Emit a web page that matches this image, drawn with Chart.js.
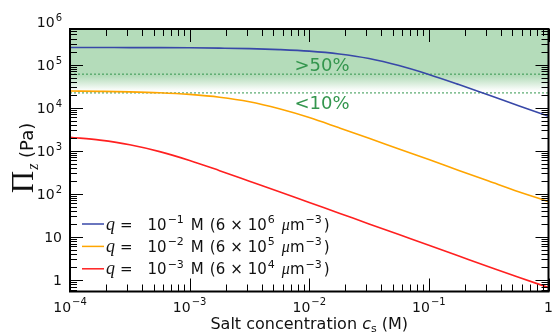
<!DOCTYPE html>
<html lang="en">
<head>
<meta charset="UTF-8">
<title>Osmotic pressure vs salt concentration</title>
<script src="https://cdn.jsdelivr.net/npm/chart.js"></script>
<style>
    body { margin: 0; background: #fff; }
    #chart-container { width: 555px; height: 336px; }
</style>
</head>
<body>
<div id="chart-container"><canvas id="myChart"></canvas></div>
<script>
// salt concentration c_s (M), quarter-decade steps
const saltConc = [1e-4, 1.78e-4, 3.16e-4, 5.62e-4, 1e-3, 1.78e-3, 3.16e-3, 5.62e-3, 1e-2, 1.78e-2, 3.16e-2, 5.62e-2, 0.1, 0.178, 0.316, 0.562, 1];
// Pi_z (Pa) for each fixed charge q
const piQ1 = [2.50e5, 2.49e5, 2.48e5, 2.47e5, 2.45e5, 2.41e5, 2.35e5, 2.23e5, 2.05e5, 1.76e5, 1.38e5, 9.5e4, 5.9e4, 3.44e4, 1.96e4, 1.11e4, 6.3e3];
const piQ2 = [2.43e4, 2.39e4, 2.33e4, 2.22e4, 2.03e4, 1.75e4, 1.37e4, 9.4e3, 5.9e3, 3.4e3, 1.95e3, 1.10e3, 625, 350, 198, 112, 66];
const piQ3 = [2.06e3, 1.76e3, 1.38e3, 955, 595, 345, 197, 112, 63, 35.5, 20, 11.3, 6.4, 3.6, 2.03, 1.15, 0.67];

const seriesColors = ['#3848a8', '#ffa500', '#ff2020'];
// legend: exponent of q (M) and of number density (um^-3)
const qExps = ['−1', '−2', '−3'];
const nExps = ['6', '5', '4'];

// shaded region boundaries (Pa) and their labels
const bandLevels = [6e4, 2.2e4];
const bandTexts = ['>50%', '<10%'];
const bandTextPos = [[1.28e-2, 8.9e4], [1.28e-2, 1.2e4]];

// axes
const xRange = [1e-4, 1];
const yRange = [0.54, 6.7e5];
const xDecades = [1e-4, 1e-3, 1e-2, 1e-1, 1];
const xTickLabels = [['10', '−4'], ['10', '−3'], ['10', '−2'], ['10', '−1'], ['1', '']];
const yDecades = [1, 10, 100, 1e3, 1e4, 1e5, 1e6];
const yTickLabels = [['1', ''], ['10', ''], ['10', '2'], ['10', '3'], ['10', '4'], ['10', '5'], ['10', '6']];

const SANS = '"DejaVu Sans", sans-serif';
const SERIF = '"Liberation Serif", "DejaVu Serif", serif';
const GREEN = 'rgb(52,150,78)';
const BAND = [180, 220, 186];

function pts(ys) {
    return saltConc.map((c, i) => ({ x: c, y: ys[i] }));
}

// draws base with a superscript, returns width
function drawPower(ctx, base, exp, x, y, align, size) {
    const supSize = Math.round(size * 0.72);
    ctx.font = size + 'px ' + SANS;
    const wb = ctx.measureText(base).width;
    ctx.font = supSize + 'px ' + SANS;
    const we = exp ? ctx.measureText(exp).width + 1 : 0;
    const total = wb + we;
    let x0 = x;
    if (align === 'right') x0 = x - total;
    if (align === 'center') x0 = x - total / 2;
    ctx.textAlign = 'left';
    ctx.textBaseline = 'alphabetic';
    ctx.font = size + 'px ' + SANS;
    ctx.fillText(base, x0, y);
    if (exp) {
        ctx.font = supSize + 'px ' + SANS;
        ctx.fillText(exp, x0 + wb + 1, y - size * 0.45);
    }
    return total;
}

function seg(ctx, text, x, y, font) {
    ctx.font = font;
    ctx.fillText(text, x, y);
    return x + ctx.measureText(text).width;
}

const framePlugin = {
    id: 'frame',
    afterDatasetsDraw(chart) {
        const { ctx, chartArea: a, scales } = chart;
        const xs = scales.x, ys = scales.y;
        ctx.save();
        ctx.strokeStyle = '#000';
        ctx.lineWidth = 1;
        const line = (x1, y1, x2, y2) => { ctx.beginPath(); ctx.moveTo(x1, y1); ctx.lineTo(x2, y2); ctx.stroke(); };
        // x ticks, top and bottom, pointing in
        xDecades.forEach(d => {
            for (let k = 1; k <= 9; k++) {
                const v = d * k;
                if (v < xRange[0] || v > xRange[1]) continue;
                const px = Math.round(xs.getPixelForValue(v)) + 0.5;
                const len = k === 1 ? 13 : 7;
                line(px, a.bottom, px, a.bottom - len);
                line(px, a.top, px, a.top + len);
            }
        });
        // y ticks, left and right, pointing in
        [0.1].concat(yDecades).forEach(d => {
            for (let k = 1; k <= 9; k++) {
                const v = d * k;
                if (v < yRange[0] || v > yRange[1]) continue;
                const py = Math.round(ys.getPixelForValue(v)) + 0.5;
                const len = k === 1 ? 13 : 7;
                line(a.left, py, a.left + len, py);
                line(a.right, py, a.right - len, py);
            }
        });
        ctx.lineWidth = 2;
        ctx.strokeRect(a.left, a.top, a.right - a.left, a.bottom - a.top);

        // tick labels
        ctx.fillStyle = '#111';
        xDecades.forEach((d, i) => {
            const px = xs.getPixelForValue(d);
            drawPower(ctx, xTickLabels[i][0], xTickLabels[i][1], px, a.bottom + 20, 'center', 14);
        });
        yDecades.forEach((d, i) => {
            const py = ys.getPixelForValue(d);
            drawPower(ctx, yTickLabels[i][0], yTickLabels[i][1], a.left - 8, py + 5.5, 'right', 14);
        });

        // x axis title
        ctx.textAlign = 'left';
        ctx.textBaseline = 'alphabetic';
        ctx.font = '16px ' + SANS;
        const w1 = ctx.measureText('Salt concentration ').width;
        ctx.font = 'italic 16px ' + SANS;
        const wc = ctx.measureText('c').width;
        ctx.font = '11px ' + SANS;
        const ws = ctx.measureText('s').width;
        ctx.font = '16px ' + SANS;
        const w2 = ctx.measureText(' (M)').width;
        let tx = (a.left + a.right) / 2 - (w1 + wc + ws + w2) / 2;
        const ty = a.bottom + 37.5;
        tx = seg(ctx, 'Salt concentration ', tx, ty, '16px ' + SANS);
        tx = seg(ctx, 'c', tx, ty, 'italic 16px ' + SANS);
        tx = seg(ctx, 's', tx, ty + 3, '11px ' + SANS);
        seg(ctx, ' (M)', tx, ty, '16px ' + SANS);

        // y axis title, rotated
        ctx.save();
        ctx.translate(33, (a.top + a.bottom) / 2 + 33);
        ctx.rotate(-Math.PI / 2);
        let ry = 0;
        ry = seg(ctx, 'Π', ry, 0, '31px ' + SERIF);
        ry = seg(ctx, 'z', ry + 1, 5, 'italic 16px ' + SERIF);
        seg(ctx, ' (Pa)', ry, 0, '18px ' + SANS);
        ctx.restore();

        // band labels
        ctx.fillStyle = GREEN;
        ctx.font = '18px ' + SANS;
        ctx.textAlign = 'center';
        ctx.textBaseline = 'middle';
        bandTexts.forEach((t, i) => {
            ctx.fillText(t, xs.getPixelForValue(bandTextPos[i][0]), ys.getPixelForValue(bandTextPos[i][1]));
        });

        // legend
        ctx.textAlign = 'left';
        ctx.textBaseline = 'alphabetic';
        qExps.forEach((qe, i) => {
            const ly = a.bottom - 67.5 + i * 22.4;
            ctx.strokeStyle = seriesColors[i];
            ctx.lineWidth = 1.5;
            line(a.left + 12, ly, a.left + 34, ly);
            ctx.fillStyle = '#111';
            let lx = a.left + 36;
            const by = ly + 5.5;
            lx = seg(ctx, 'q', lx, by, 'italic 18px ' + SERIF);
            lx = seg(ctx, '=', lx + 5, by, '15px ' + SANS);
            lx += 15;
            lx += drawPower(ctx, '10', qe, lx, by, 'left', 15);
            lx = seg(ctx, 'M', lx + 7, by, '15px ' + SANS);
            lx = seg(ctx, '(6', lx + 6, by, '15px ' + SANS);
            lx = seg(ctx, '×', lx + 5, by, '15px ' + SANS);
            lx += 5;
            lx += drawPower(ctx, '10', nExps[i], lx, by, 'left', 15);
            lx = seg(ctx, 'μ', lx + 7, by, 'italic 16px ' + SERIF);
            lx += drawPower(ctx, 'm', '−3', lx, by, 'left', 15);
            seg(ctx, ')', lx + 2, by, '15px ' + SANS);
        });
        ctx.restore();
    }
};

const ctx = document.getElementById('myChart').getContext('2d');
const myChart = new Chart(ctx, {
    type: 'line',
    data: {
        datasets: [
            { label: 'q = 1e-1 M', data: pts(piQ1), borderColor: seriesColors[0], borderWidth: 1.6, pointRadius: 0, cubicInterpolationMode: 'monotone', order: 0 },
            { label: 'q = 1e-2 M', data: pts(piQ2), borderColor: seriesColors[1], borderWidth: 1.6, pointRadius: 0, cubicInterpolationMode: 'monotone', order: 0 },
            { label: 'q = 1e-3 M', data: pts(piQ3), borderColor: seriesColors[2], borderWidth: 1.6, pointRadius: 0, cubicInterpolationMode: 'monotone', order: 0 },
            { label: '50%', data: [{ x: xRange[0], y: bandLevels[0] }, { x: xRange[1], y: bandLevels[0] }], borderColor: GREEN, borderWidth: 1, borderDash: [2, 2], pointRadius: 0, order: 1 },
            { label: '10%', data: [{ x: xRange[0], y: bandLevels[1] }, { x: xRange[1], y: bandLevels[1] }], borderColor: GREEN, borderWidth: 1, borderDash: [2, 2], pointRadius: 0, order: 1 },
            {
                label: 'band',
                data: [{ x: xRange[0], y: yRange[1] }, { x: xRange[1], y: yRange[1] }],
                borderWidth: 0,
                pointRadius: 0,
                fill: { value: bandLevels[1] },
                order: 2,
                backgroundColor: (context) => {
                    const chart = context.chart;
                    const { chartArea, scales } = chart;
                    if (!chartArea) return 'rgba(0,0,0,0)';
                    const y0 = scales.y.getPixelForValue(bandLevels[0]);
                    const y1 = scales.y.getPixelForValue(bandLevels[1]);
                    const g = chart.ctx.createLinearGradient(0, y0, 0, y1);
                    g.addColorStop(0, `rgba(${BAND},1)`);
                    g.addColorStop(0.1, `rgba(${BAND},1)`);
                    g.addColorStop(0.9, `rgba(${BAND},0)`);
                    g.addColorStop(1, `rgba(${BAND},0)`);
                    return g;
                }
            }
        ]
    },
    options: {
        responsive: true,
        maintainAspectRatio: false,
        animation: false,
        layout: { padding: { left: 70, right: 6.5, top: 29, bottom: 44.5 } },
        scales: {
            x: { type: 'logarithmic', min: xRange[0], max: xRange[1], display: false },
            y: { type: 'logarithmic', min: yRange[0], max: yRange[1], display: false }
        },
        plugins: {
            legend: { display: false },
            tooltip: { enabled: false }
        }
    },
    plugins: [framePlugin]
});
</script>
</body>
</html>
